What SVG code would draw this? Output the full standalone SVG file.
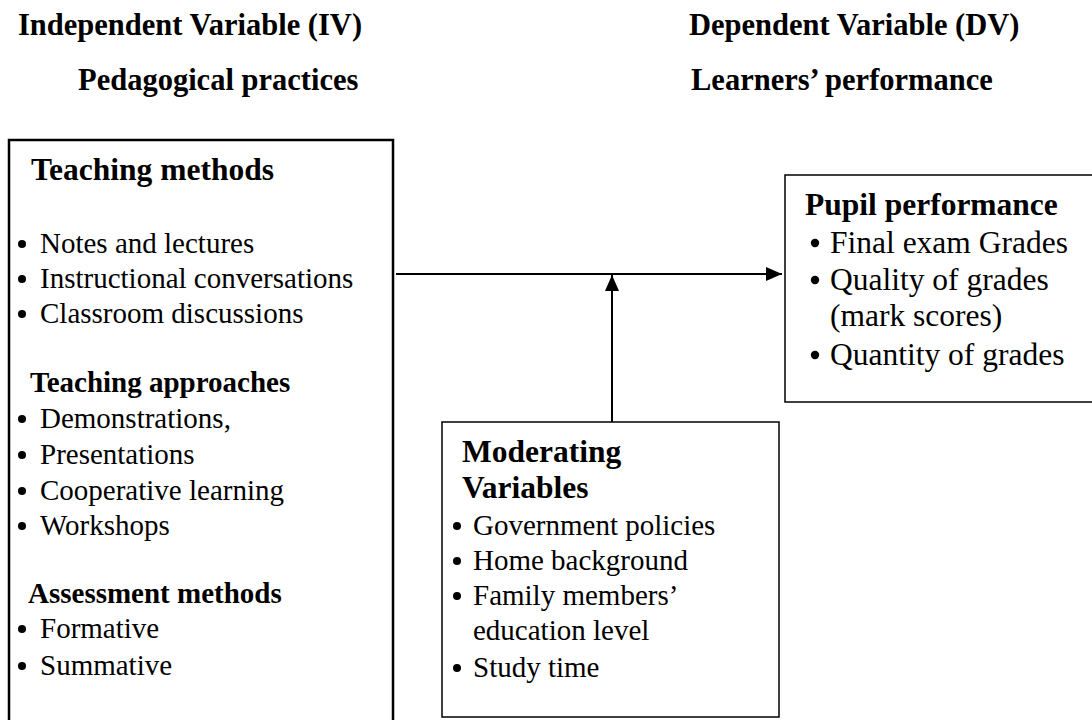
<svg xmlns="http://www.w3.org/2000/svg" width="1092" height="720" viewBox="0 0 1092 720">
<style>
text{font-family:"Liberation Serif","Times New Roman",serif;fill:#000}
.h{font-weight:bold;font-size:30.5px}
.t{font-weight:bold;font-size:31.5px}
.s{font-weight:bold;font-size:29px}
.r{font-size:29px}
.rr{font-size:31.5px}
.box{fill:#fff;stroke:#000}
.dot{fill:#000}
.con{stroke:#000;stroke-width:2;fill:none}
</style>
<defs>
<marker id="ah" markerWidth="16" markerHeight="14" refX="16" refY="7" orient="auto" markerUnits="userSpaceOnUse">
<path d="M0,0 L16,7 L0,14 Z" fill="#000"/>
</marker>
</defs>
<rect width="1092" height="720" fill="#fff"/>
<g id="headers">
<text class="h" x="18" y="35">Independent Variable (IV)</text>
<text class="h" x="78" y="90">Pedagogical practices</text>
<text class="h" x="689" y="35">Dependent Variable (DV)</text>
<text class="h" x="691" y="90">Learners’ performance</text>
</g>
<g id="connectors">
<line class="con" x1="396" y1="274" x2="782" y2="274" marker-end="url(#ah)"/>
<line class="con" x1="612" y1="422" x2="612" y2="275" marker-end="url(#ah)"/>
</g>
<g id="iv-box">
<rect class="box" x="9" y="140" width="384" height="600" stroke-width="2.5"/>
<text class="t" x="31" y="180">Teaching methods</text>
<circle class="dot" cx="22" cy="244" r="4"/><text class="r" x="40" y="253">Notes and lectures</text>
<circle class="dot" cx="22" cy="279" r="4"/><text class="r" x="40" y="288">Instructional conversations</text>
<circle class="dot" cx="22" cy="314" r="4"/><text class="r" x="40" y="323">Classroom discussions</text>
<text class="s" x="30" y="392">Teaching approaches</text>
<circle class="dot" cx="22" cy="419" r="4"/><text class="r" x="40" y="428">Demonstrations,</text>
<circle class="dot" cx="22" cy="455" r="4"/><text class="r" x="40" y="464">Presentations</text>
<circle class="dot" cx="22" cy="491" r="4"/><text class="r" x="40" y="500">Cooperative learning</text>
<circle class="dot" cx="22" cy="526" r="4"/><text class="r" x="40" y="535">Workshops</text>
<text class="s" x="28" y="603">Assessment methods</text>
<circle class="dot" cx="22" cy="629" r="4"/><text class="r" x="40" y="638">Formative</text>
<circle class="dot" cx="22" cy="666" r="4"/><text class="r" x="40" y="675">Summative</text>
</g>
<g id="dv-box">
<rect class="box" x="785" y="175" width="320" height="227" stroke-width="1.5"/>
<text class="t" x="805" y="215">Pupil performance</text>
<circle class="dot" cx="815" cy="243" r="4.2"/><text class="rr" x="830" y="253">Final exam Grades</text>
<circle class="dot" cx="815" cy="280" r="4.2"/><text class="rr" x="830" y="290">Quality of grades</text>
<text class="rr" x="830" y="326">(mark scores)</text>
<circle class="dot" cx="815" cy="355" r="4.2"/><text class="rr" x="830" y="365">Quantity of grades</text>
</g>
<g id="moderating-box">
<rect class="box" x="442" y="422" width="337" height="295" stroke-width="1.5"/>
<text class="t" x="462" y="462">Moderating</text>
<text class="t" x="462" y="498">Variables</text>
<circle class="dot" cx="457" cy="526" r="4"/><text class="r" x="473" y="535">Government policies</text>
<circle class="dot" cx="457" cy="561" r="4"/><text class="r" x="473" y="570">Home background</text>
<circle class="dot" cx="457" cy="596" r="4"/><text class="r" x="473" y="605">Family members’</text>
<text class="r" x="473" y="640">education level</text>
<circle class="dot" cx="457" cy="668" r="4"/><text class="r" x="473" y="677">Study time</text>
</g>
</svg>
